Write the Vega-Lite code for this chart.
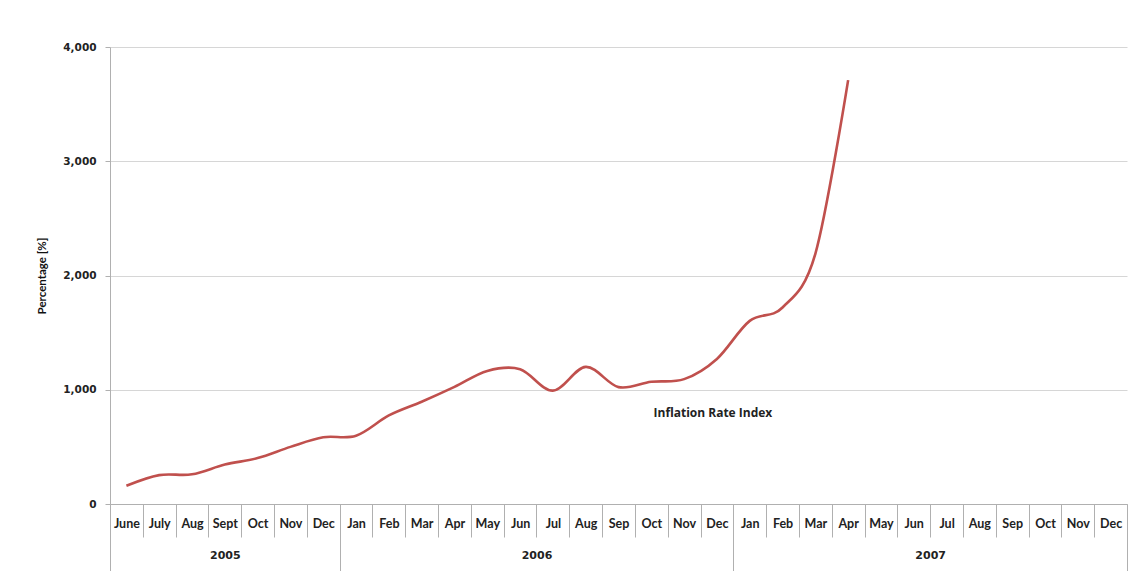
{
  "$schema": "https://vega.github.io/schema/vega-lite/v6.json",
  "autosize": "none",
  "width": 1017,
  "height": 457,
  "padding": {"left": 110, "top": 47, "right": 8, "bottom": 67},
  "background": "white",
  "config": {"view": {"stroke": null}},
  "resolve": {"scale": {"x": "independent"}, "axis": {"x": "independent"}},
  "layer": [
    {
      "data": {
        "values": [
          {"month": "2005-06|June", "value": 160},
          {"month": "2005-07|July", "value": 253},
          {"month": "2005-08|Aug", "value": 260},
          {"month": "2005-09|Sept", "value": 345},
          {"month": "2005-10|Oct", "value": 402},
          {"month": "2005-11|Nov", "value": 500},
          {"month": "2005-12|Dec", "value": 584},
          {"month": "2006-01|Jan", "value": 598},
          {"month": "2006-02|Feb", "value": 775},
          {"month": "2006-03|Mar", "value": 895},
          {"month": "2006-04|Apr", "value": 1025},
          {"month": "2006-05|May", "value": 1165},
          {"month": "2006-06|Jun", "value": 1180},
          {"month": "2006-07|Jul", "value": 992},
          {"month": "2006-08|Aug", "value": 1200},
          {"month": "2006-09|Sep", "value": 1023},
          {"month": "2006-10|Oct", "value": 1070},
          {"month": "2006-11|Nov", "value": 1093},
          {"month": "2006-12|Dec", "value": 1270},
          {"month": "2007-01|Jan", "value": 1603},
          {"month": "2007-02|Feb", "value": 1720},
          {"month": "2007-03|Mar", "value": 2190},
          {"month": "2007-04|Apr", "value": 3710},
          {"month": "2007-05|May", "value": null},
          {"month": "2007-06|Jun", "value": null},
          {"month": "2007-07|Jul", "value": null},
          {"month": "2007-08|Aug", "value": null},
          {"month": "2007-09|Sep", "value": null},
          {"month": "2007-10|Oct", "value": null},
          {"month": "2007-11|Nov", "value": null},
          {"month": "2007-12|Dec", "value": null}
        ]
      },
      "mark": {"type": "line", "interpolate": "cardinal", "color": "#C0504D", "strokeWidth": 2.6},
      "encoding": {
        "x": {
          "field": "month",
          "type": "ordinal",
          "scale": {"type": "band", "paddingInner": 0, "paddingOuter": 0},
          "axis": {
            "orient": "bottom",
            "title": null,
            "labelExpr": "substring(datum.label + '', 8)",
            "labelAngle": 0,
            "labelFont": "Lato",
            "labelFontWeight": "bold",
            "labelFontSize": 12.5,
            "labelColor": "#222222",
            "labelBaseline": "top",
            "labelPadding": -20,
            "tickBand": "extent",
            "tickSize": 33,
            "tickColor": "#b0b0b0",
            "tickWidth": 1,
            "domainColor": "#b0b0b0",
            "domainWidth": 1,
            "grid": false
          }
        },
        "y": {
          "field": "value",
          "type": "quantitative",
          "scale": {"domain": [0, 4000], "nice": false},
          "axis": {
            "values": [0, 1000, 2000, 3000, 4000],
            "format": ",.0f",
            "title": "Percentage [%]",
            "titleFont": "Lato",
            "titleFontSize": 11.5,
            "titleFontWeight": "bold",
            "titleColor": "#111111",
            "titlePadding": 15,
            "labelFont": "DejaVu Sans",
            "labelFontWeight": "bold",
            "labelFontSize": 10.5,
            "labelColor": "#222222",
            "labelPadding": 9,
            "tickSize": 5,
            "tickColor": "#b0b0b0",
            "domainColor": "#b0b0b0",
            "gridColor": "#d6d6d6",
            "gridWidth": 1
          }
        }
      }
    },
    {
      "data": {"values": [{"pos": 18.5, "value": 800, "label": "Inflation Rate Index"}]},
      "mark": {"type": "text", "font": "Open Sans", "fontWeight": "bold", "fontSize": 12, "color": "#222222", "dx": -4},
      "encoding": {
        "x": {
          "field": "pos",
          "type": "quantitative",
          "scale": {"domain": [0, 31], "nice": false, "zero": false},
          "axis": {
            "orient": "bottom",
            "title": null,
            "values": [0, 3.5, 7, 13, 19, 25, 31],
            "labelExpr": "datum.value == 3.5 ? '2005' : datum.value == 13 ? '2006' : datum.value == 25 ? '2007' : ''",
            "labelFont": "DejaVu Sans",
            "labelFontWeight": "bold",
            "labelFontSize": 11,
            "labelColor": "#222222",
            "labelBaseline": "top",
            "labelPadding": -22,
            "labelFlush": false,
            "labelOverlap": false,
            "tickSize": 67,
            "tickColor": "#b0b0b0",
            "tickOpacity": {"condition": {"test": "datum.value == 3.5 || datum.value == 13 || datum.value == 25", "value": 0}, "value": 1},
            "domain": false,
            "grid": false
          }
        },
        "y": {"field": "value", "type": "quantitative"},
        "text": {"field": "label"}
      }
    }
  ]
}
